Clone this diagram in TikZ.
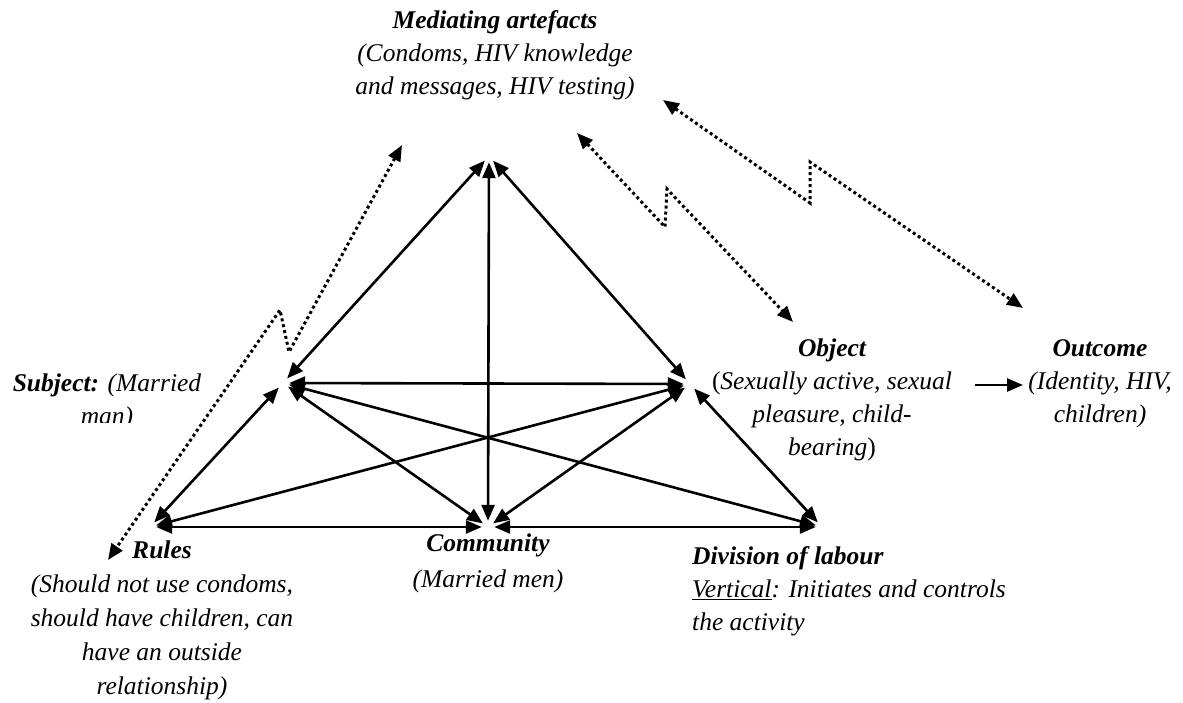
\documentclass[tikz,border=0pt]{standalone}
\usepackage{fontspec}
\setmainfont{Liberation Serif}
\usetikzlibrary{arrows.meta}
\begin{document}
\begin{tikzpicture}[x=1pt,y=-1pt,
  vtx/.style={circle,minimum size=12pt,inner sep=0pt},
  link/.style={line width=2.6pt,{Triangle[length=16pt,width=13pt]}-{Triangle[length=16pt,width=13pt]}},
  zig/.style={line width=3pt,dash pattern=on 3pt off 3pt,{Triangle[length=16pt,width=13pt]}-{Triangle[length=16pt,width=13pt]}},
  lbl/.style={font=\fontsize{25.5}{33}\selectfont\itshape,align=center,inner sep=0pt},
]
\useasboundingbox (0,0) rectangle (1183,702);

% corners of the activity system
\node[vtx] (A) at (489,156) {};
\node[vtx] (S) at (283,383) {};
\node[vtx] (O) at (690,384) {};
\node[vtx] (R) at (150,527) {};
\node[vtx] (C) at (488,527) {};
\node[vtx] (D) at (822,527) {};

% two-way relations between the corners
\draw[link] (A) -- (S);
\draw[link] (A) -- (C);
\draw[link] (A) -- (O);
\draw[link] (S) -- (O);
\draw[link] (S) -- (R);
\draw[link] (S) -- (C);
\draw[link] (S) -- (D);
\draw[link] (O) -- (R);
\draw[link] (O) -- (C);
\draw[link] (O) -- (D);
\draw[link] (R) -- (C);
\draw[link] (C) -- (D);

% broken (contradiction) links
\coordinate (l1) at (402,145);
\coordinate (l2) at (289,352);
\coordinate (l3) at (280,310);
\coordinate (l4) at (108,560);
\draw[zig] (l1) -- (l2) -- (l3) -- (l4);

\coordinate (m1) at (577,133);
\coordinate (m2) at (665,227);
\coordinate (m3) at (667,189);
\coordinate (m4) at (793,322);
\draw[zig] (m1) -- (m2) -- (m3) -- (m4);

\coordinate (r1) at (663,100);
\coordinate (r2) at (810,203);
\coordinate (r3) at (810,162);
\coordinate (r4) at (1023,308);
\draw[zig] (r1) -- (r2) -- (r3) -- (r4);

% labels
\node[lbl] (med) at (495,55) {\textbf{Mediating artefacts}\\(Condoms, HIV knowledge\\and messages, HIV testing)};
\node[lbl] (obj) at (832,400) {\textbf{Object}\\{\upshape(}Sexually active, sexual\\pleasure, child-\\bearing{\upshape)}};
\node[lbl] (out) at (1100,384) {\textbf{Outcome}\\(Identity, HIV,\\children)};

\coordinate (oa) at (975,385);
\coordinate (ob) at (1023,385);
\draw[line width=2.6pt,-{Triangle[length=16pt,width=13pt]}] (oa) -- (ob);

\begin{scope}
  \clip (0,340) rectangle (270,422);
  \node[lbl] (subj) at (107,402) {\textbf{Subject:} (Married\\man)};
\end{scope}

\node[lbl,font=\fontsize{25.5}{34}\selectfont\itshape] (rules) at (162,620) {\textbf{Rules}\\(Should not use condoms,\\should have children, can\\have an outside\\relationship)};
\node[lbl,font=\fontsize{25.5}{36}\selectfont\itshape] (comm) at (488,563) {\textbf{Community}\\(Married men)};
\node[lbl,align=left,anchor=west] (div) at (692,591) {\textbf{Division of labour}\\\underline{Vertical}: Initiates and controls\\the activity};
\end{tikzpicture}
\end{document}
